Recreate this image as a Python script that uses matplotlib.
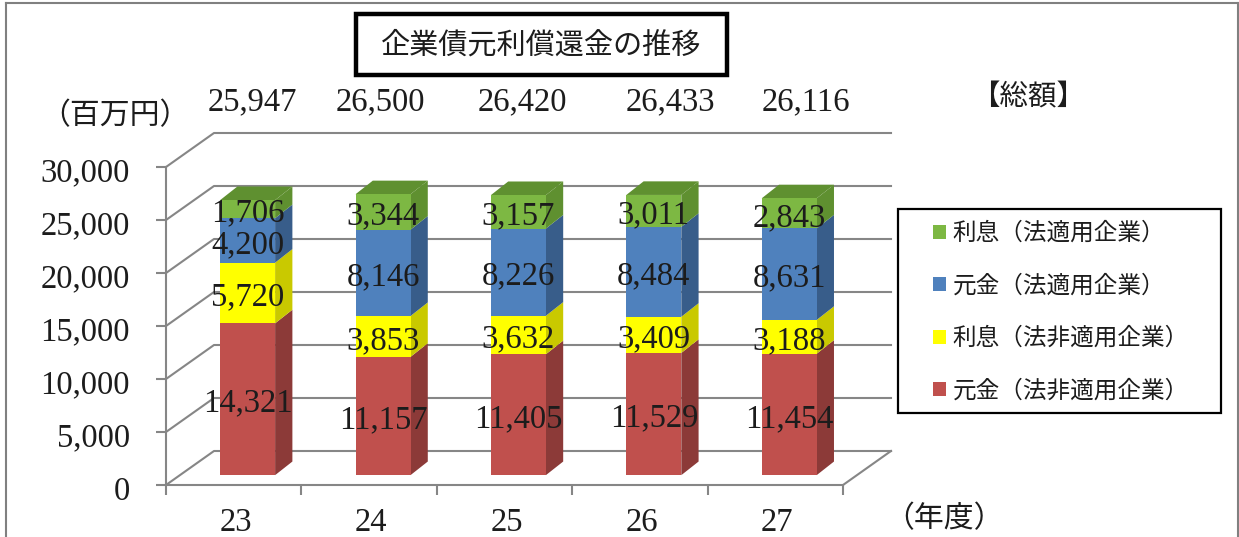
import matplotlib
matplotlib.use('Agg')
import matplotlib.pyplot as plt
from matplotlib.lines import Line2D
from matplotlib.patches import Patch, Polygon, Rectangle
from matplotlib.transforms import ScaledTranslation

plt.rcParams['font.family'] = ['Noto Sans CJK JP', 'DejaVu Sans']

years = ['23', '24', '25', '26', '27']
totals = [25947, 26500, 26420, 26433, 26116]
principal_non = [14321, 11157, 11405, 11529, 11454]
interest_non = [5720, 3853, 3632, 3409, 3188]
principal_app = [4200, 8146, 8226, 8484, 8631]
interest_app = [1706, 3344, 3157, 3011, 2843]
y_ticks = [0, 5000, 10000, 15000, 20000, 25000, 30000]

series = [principal_non, interest_non, principal_app, interest_app]
labels = ['元金（法非適用企業）', '利息（法非適用企業）', '元金（法適用企業）', '利息（法適用企業）']
front_colors = ['#C0504D', '#FFFF00', '#4F81BD', '#7DB843']
side_colors = ['#8C3A38', '#C9C900', '#385D8A', '#5F9030']

W, H = 1239, 537
SERIF = 'Liberation Serif'
NUM_SIZE = 23.5
GREY = '#868686'
INK = '#1c1c1c'


def fx(px):
    return px / W


def fy(py):
    return 1 - py / H


fig = plt.figure(figsize=(W / 100, H / 100), dpi=100)
ax = fig.add_axes([fx(166), fy(485), (843 - 166) / W, (485 - 167) / H])
ax.set_xlim(0, 5)
ax.set_ylim(0, 30000)
ax.patch.set_alpha(0)

# depth of the fake 3d box, in data units
depth_x = 48 / (677 / 5)
depth_y = 34 / (318 / 30000)
bar_width = 0.406
near = 0.29   # where bars start inside the box
far_x = 0.65  # where bars end
far_y = 0.69

# back wall and left wall gridlines
for v in y_ticks:
    ax.plot([0, depth_x, 5 + depth_x], [v, v + depth_y, v + depth_y],
            color=GREY, lw=1.5, clip_on=False, zorder=1)
ax.plot([5, 5 + depth_x], [0, depth_y], color=GREY, lw=1.5, clip_on=False, zorder=1)

# stacked bars: front from ax.bar, side and top as polygons
for i in range(len(years)):
    left = i + 0.5 - bar_width / 2 + near * depth_x
    right = left + bar_width
    dx = (far_x - near) * depth_x
    dy = (far_y - near) * depth_y
    floor = near * depth_y
    base = 0
    for s, values in enumerate(series):
        v = values[i]
        y0 = floor + base
        y1 = y0 + v
        ax.bar(left, v, bar_width, bottom=y0, align='edge', color=front_colors[s],
               lw=0, zorder=3, clip_on=False)
        ax.add_patch(Polygon([(right, y0), (right + dx, y0 + dy), (right + dx, y1 + dy), (right, y1)],
                             closed=True, fc=side_colors[s], ec='none', zorder=2.5, clip_on=False))
        if s == len(series) - 1:
            ax.add_patch(Polygon([(left, y1), (left + dx, y1 + dy), (right + dx, y1 + dy), (right, y1)],
                                 closed=True, fc=side_colors[s], ec='none', zorder=2.5, clip_on=False))
        ax.text(left + bar_width / 2, (y0 + y1) / 2 - 400, f'{v:,}', ha='center', va='center',
                fontsize=NUM_SIZE, family=SERIF, color=INK, zorder=5, clip_on=False)
        base += v

# axes
for side in ['top', 'right']:
    ax.spines[side].set_visible(False)
for side in ['left', 'bottom']:
    ax.spines[side].set_color(GREY)
    ax.spines[side].set_linewidth(1.5)
ax.set_yticks(y_ticks)
ax.set_yticklabels([f'{v:,}' for v in y_ticks], fontsize=NUM_SIZE, family=SERIF, color=INK)
ax.tick_params(axis='y', length=7, width=1.5, color=GREY, pad=19)
ax.set_xticks(range(6))
ax.set_xticklabels([])
ax.tick_params(axis='x', which='major', length=7, width=1.5, color=GREY)
ax.set_xticks([i + 0.5 for i in range(5)], minor=True)
ax.set_xticklabels(years, minor=True, fontsize=NUM_SIZE, family=SERIF, color=INK)
ax.tick_params(axis='x', which='minor', length=0, pad=16)

# nudge tick labels a few pixels
for lab in ax.get_yticklabels():
    lab.set_transform(lab.get_transform() + ScaledTranslation(0, -0.03, fig.dpi_scale_trans))
for lab in ax.get_xticklabels(minor=True):
    lab.set_transform(lab.get_transform() + ScaledTranslation(0.02, 0, fig.dpi_scale_trans))

# totals above the chart
total_px = [252, 380, 522, 670, 806]
for px, t in zip(total_px, totals):
    fig.text(fx(px), fy(102), f'{t:,}', ha='center', va='center', fontsize=NUM_SIZE,
             family=SERIF, color=INK)

fig.text(fx(115), fy(116), '（百万円）', ha='center', va='center', fontsize=21.5, color=INK)
fig.text(fx(944), fy(519), '（年度）', ha='center', va='center', fontsize=21.5, color=INK)
fig.text(fx(1028), fy(97), '【総額】', ha='center', va='center', fontsize=20.5, color=INK)

# title box
fig.add_artist(Rectangle((fx(356), fy(75)), (727 - 356) / W, (75 - 14) / H, transform=fig.transFigure,
                         fc='white', ec='black', lw=3.2))
fig.text(fx(541), fy(46), '企業債元利償還金の推移', ha='center', va='center', fontsize=21, color=INK)

# legend, frame drawn separately so the width can match
fig.add_artist(Rectangle((fx(898), fy(413)), (1221 - 898) / W, (413 - 209) / H, transform=fig.transFigure,
                         fc='white', ec='black', lw=1.6, zorder=4))
handles = [Patch(fc=c, ec='none') for c in front_colors[::-1]]
leg = fig.legend(handles, labels[::-1], loc='upper left', bbox_to_anchor=(fx(933), fy(222)),
                 bbox_transform=fig.transFigure, frameon=False, fontsize=17, labelcolor=INK,
                 handlelength=0.55, handleheight=0.55, handletextpad=0.28, labelspacing=1.25,
                 borderpad=0, borderaxespad=0)
leg.set_zorder(6)

# outer border of the pasted picture
for xs, ys in [([6, 6], [537, 3]), ([6, 1238], [3, 3]), ([1238, 1238], [3, 537])]:
    fig.add_artist(Line2D([fx(x) for x in xs], [fy(y) for y in ys], color='#808080', lw=1.5))

fig.savefig('out.png', dpi=100)
